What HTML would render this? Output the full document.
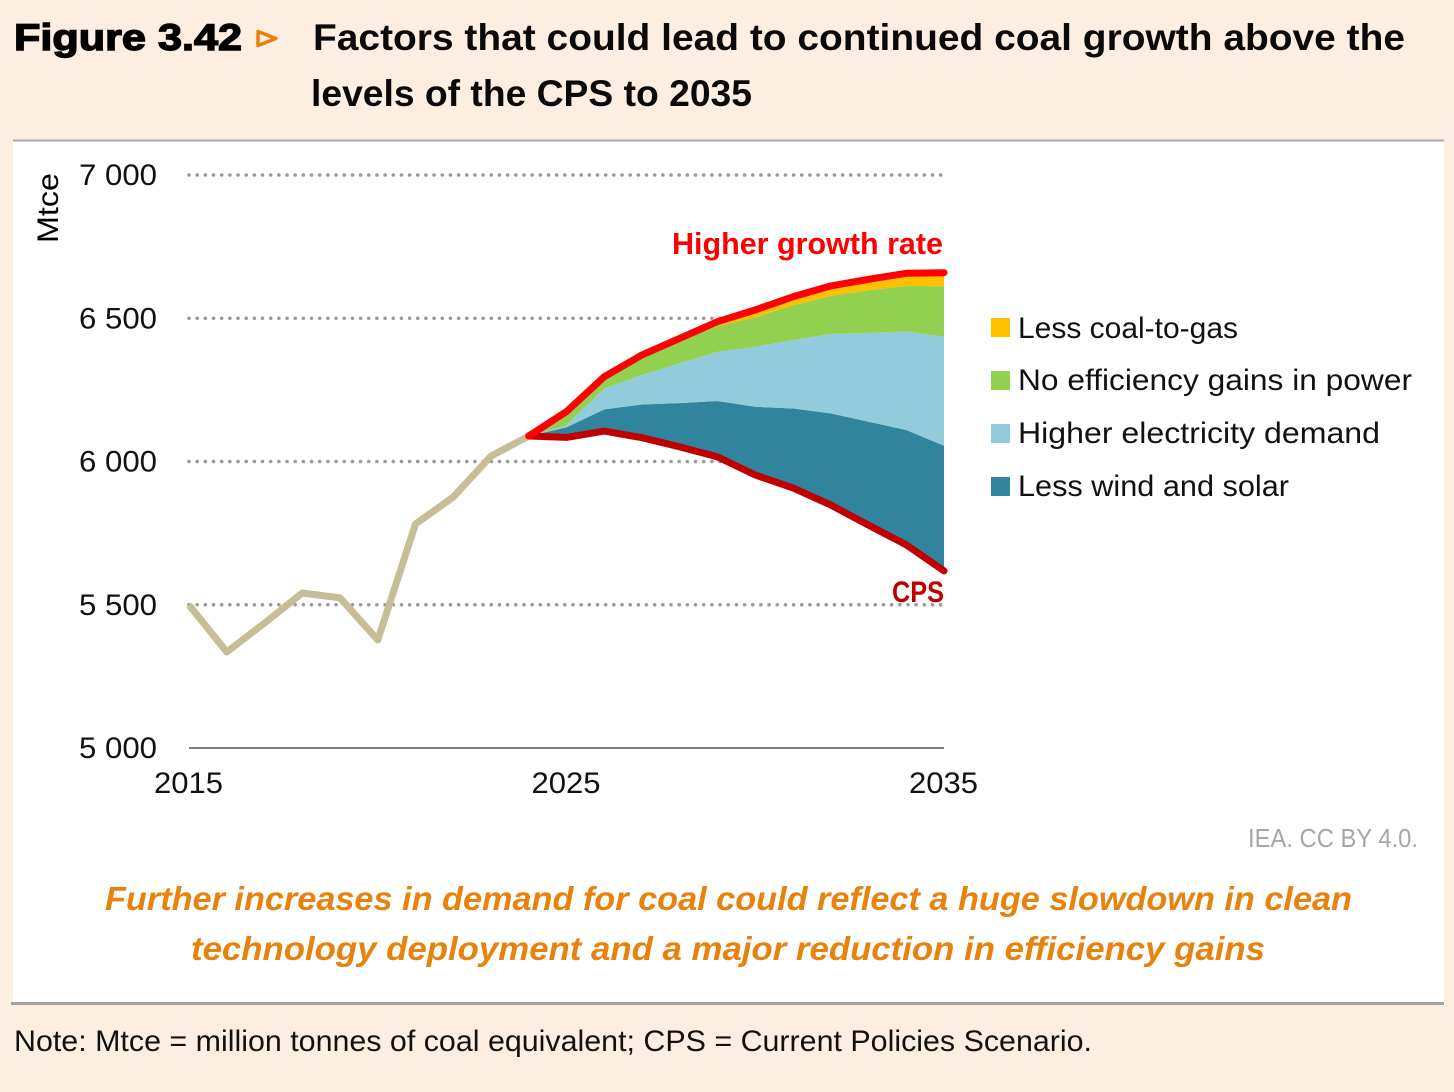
<!DOCTYPE html>
<html lang="en">
<head>
<meta charset="utf-8">
<title>Figure 3.42</title>
<style>
html,body{margin:0;padding:0;background:#fdeee2;}
svg{display:block;}
text{font-family:"Liberation Sans",sans-serif;}
</style>
</head>
<body>
<svg id="root" xmlns="http://www.w3.org/2000/svg" width="1454" height="1092" viewBox="0 0 1454 1092">
  <rect x="0" y="0" width="1454" height="1092" fill="#fdeee2"/>
  <rect x="13" y="140" width="1431" height="863" fill="#ffffff"/>
  <rect x="13" y="139.5" width="1431" height="2" fill="#a9a9a9"/>
  <rect x="11" y="1002" width="1433" height="3" fill="#a3a3a3"/>

  <text x="14" y="50" font-size="37" font-weight="700" fill="#000" stroke="#000" stroke-width="1.4" textLength="228" lengthAdjust="spacingAndGlyphs">Figure 3.42</text>
  <polygon points="258,31.5 276,38.5 258,45.5" fill="none" stroke="#e8820c" stroke-width="3.4" stroke-linejoin="round"/>
  <text x="313" y="50" font-size="37" font-weight="700" fill="#0a0a0a" textLength="1092" lengthAdjust="spacingAndGlyphs">Factors that could lead to continued coal growth above the</text>
  <text x="311" y="106" font-size="37" font-weight="700" fill="#0a0a0a" textLength="441" lengthAdjust="spacingAndGlyphs">levels of the CPS to 2035</text>

  <g id="grid"></g>
  <g id="areas"></g>
  <g id="lines"></g>
  <g id="ticks"></g>

  <text transform="translate(58,243) rotate(-90)" font-size="30" fill="#000" textLength="70" lengthAdjust="spacingAndGlyphs">Mtce</text>

  <text x="672" y="254" font-size="31" font-weight="700" fill="#ff0000" textLength="271" lengthAdjust="spacingAndGlyphs">Higher growth rate</text>
  <text x="892" y="602" font-size="30" font-weight="700" fill="#c00000" textLength="52" lengthAdjust="spacingAndGlyphs">CPS</text>

  <g>
    <rect x="991" y="318" width="19" height="19" fill="#ffc000"/>
    <text x="1018" y="338" font-size="30" fill="#111" textLength="220" lengthAdjust="spacingAndGlyphs">Less coal-to-gas</text>
    <rect x="991" y="371" width="19" height="19" fill="#92d050"/>
    <text x="1018" y="390" font-size="30" fill="#111" textLength="394" lengthAdjust="spacingAndGlyphs">No efficiency gains in power</text>
    <rect x="991" y="424" width="19" height="19" fill="#92cbdc"/>
    <text x="1018" y="443" font-size="30" fill="#111" textLength="362" lengthAdjust="spacingAndGlyphs">Higher electricity demand</text>
    <rect x="991" y="477" width="19" height="19" fill="#31849e"/>
    <text x="1018" y="496" font-size="30" fill="#111" textLength="271" lengthAdjust="spacingAndGlyphs">Less wind and solar</text>
  </g>

  <text x="1248" y="847" font-size="26" fill="#a6a6a6" textLength="170" lengthAdjust="spacingAndGlyphs">IEA. CC BY 4.0.</text>

  <text x="105" y="910" font-size="33" font-weight="700" font-style="italic" fill="#e8820c" textLength="1247" lengthAdjust="spacingAndGlyphs">Further increases in demand for coal could reflect a huge slowdown in clean</text>
  <text x="191" y="960" font-size="33" font-weight="700" font-style="italic" fill="#e8820c" textLength="1074" lengthAdjust="spacingAndGlyphs">technology deployment and a major reduction in efficiency gains</text>

  <text x="14" y="1051" font-size="30" fill="#111" textLength="1078" lengthAdjust="spacingAndGlyphs">Note: Mtce = million tonnes of coal equivalent; CPS = Current Policies Scenario.</text>
</svg>
<script>
const historyYears = [2015, 2016, 2017, 2018, 2019, 2020, 2021, 2022, 2023, 2024];
const historyValues = [5499, 5335, 5436, 5541, 5524, 5377, 5782, 5876, 6019, 6089];
const projectionYears = [2024, 2025, 2026, 2027, 2028, 2029, 2030, 2031, 2032, 2033, 2034, 2035];
const cpsValues = [6089, 6084, 6106, 6083, 6051, 6016, 5953, 5908, 5848, 5778, 5709, 5618];
const lessWindSolar = [0, 35, 76, 116, 153, 195, 238, 277, 320, 361, 401, 437];
const higherElectricity = [0, 8, 73, 103, 139, 172, 209, 239, 277, 310, 344, 381];
const noEfficiencyGains = [0, 44, 38, 65, 77, 90, 103, 121, 133, 149, 159, 176];
const lessCoalToGas = [0, 3, 3, 5, 10, 15, 26, 30, 35, 38, 44, 47];
const yTickValues = [5000, 5500, 6000, 6500, 7000];
const yTickLabels = ['5 000', '5 500', '6 000', '6 500', '7 000'];
const xTickValues = [2015, 2025, 2035];
const xTickLabels = ['2015', '2025', '2035'];

const NS = 'http://www.w3.org/2000/svg';
function xScale(year) { return 189 + (year - 2015) * (944 - 189) / 20; }
function yScale(value) { return 748 - (value - 5000) * (748 - 175) / 2000; }
function make(tag, attrs, parent) {
  const el = document.createElementNS(NS, tag);
  for (const k in attrs) el.setAttribute(k, attrs[k]);
  parent.appendChild(el);
  return el;
}
function pointList(years, values) {
  return years.map(function (yr, i) { return xScale(yr).toFixed(1) + ',' + yScale(values[i]).toFixed(1); }).join(' ');
}
function cumulate(base, add) { return base.map(function (v, i) { return v + add[i]; }); }

const gridGroup = document.getElementById('grid');
const areaGroup = document.getElementById('areas');
const lineGroup = document.getElementById('lines');
const tickGroup = document.getElementById('ticks');

yTickValues.forEach(function (v, i) {
  if (v !== 5000) {
    const g = make('line', { x1: 189, x2: 942, y1: yScale(v), y2: yScale(v), stroke: '#999999', 'stroke-width': 3.6, 'stroke-linecap': 'round', 'stroke-dasharray': '0 8.17' }, gridGroup);
    
    
  }
  const t = make('text', { x: 79, y: yScale(v) + 10, 'font-size': 30, fill: '#111', textLength: 78, lengthAdjust: 'spacingAndGlyphs' }, tickGroup);
  
  
  t.textContent = yTickLabels[i];
});

xTickValues.forEach(function (v, i) {
  const t = make('text', { x: xScale(v) - 35, y: 793, 'font-size': 30, fill: '#111', textLength: 69, lengthAdjust: 'spacingAndGlyphs' }, tickGroup);
  
  
  t.textContent = xTickLabels[i];
});

const axisLine = make('line', { x1: xScale(2015), x2: xScale(2035), y1: yScale(5000), y2: yScale(5000), stroke: '#555555', 'stroke-width': 1.4 }, tickGroup);



const top1 = cumulate(cpsValues, lessWindSolar);
const top2 = cumulate(top1, higherElectricity);
const top3 = cumulate(top2, noEfficiencyGains);
const top4 = cumulate(top3, lessCoalToGas);

function drawArea(lower, upper, color) {
  const rev = projectionYears.slice().reverse();
  const pts = pointList(projectionYears, upper) + ' ' + pointList(rev, lower.slice().reverse());
  return make('polygon', { points: pts, fill: color }, areaGroup);
}
const areaWind = drawArea(cpsValues, top1, '#31849e');


const areaElec = drawArea(top1, top2, '#92cbdc');


const areaEff = drawArea(top2, top3, '#92d050');


const areaCoal = drawArea(top3, top4, '#ffc000');



const histLine = make('polyline', { points: pointList(historyYears, historyValues), fill: 'none', stroke: '#c6be96', 'stroke-width': 7, 'stroke-linejoin': 'round' }, lineGroup);


const cpsLine = make('polyline', { points: pointList(projectionYears, cpsValues), fill: 'none', stroke: '#c00000', 'stroke-width': 7, 'stroke-linejoin': 'round', 'stroke-linecap': 'round' }, lineGroup);


const highLine = make('polyline', { points: pointList(projectionYears, top4), fill: 'none', stroke: '#ff0000', 'stroke-width': 7, 'stroke-linejoin': 'round', 'stroke-linecap': 'round' }, lineGroup);


</script>
</body>
</html>
